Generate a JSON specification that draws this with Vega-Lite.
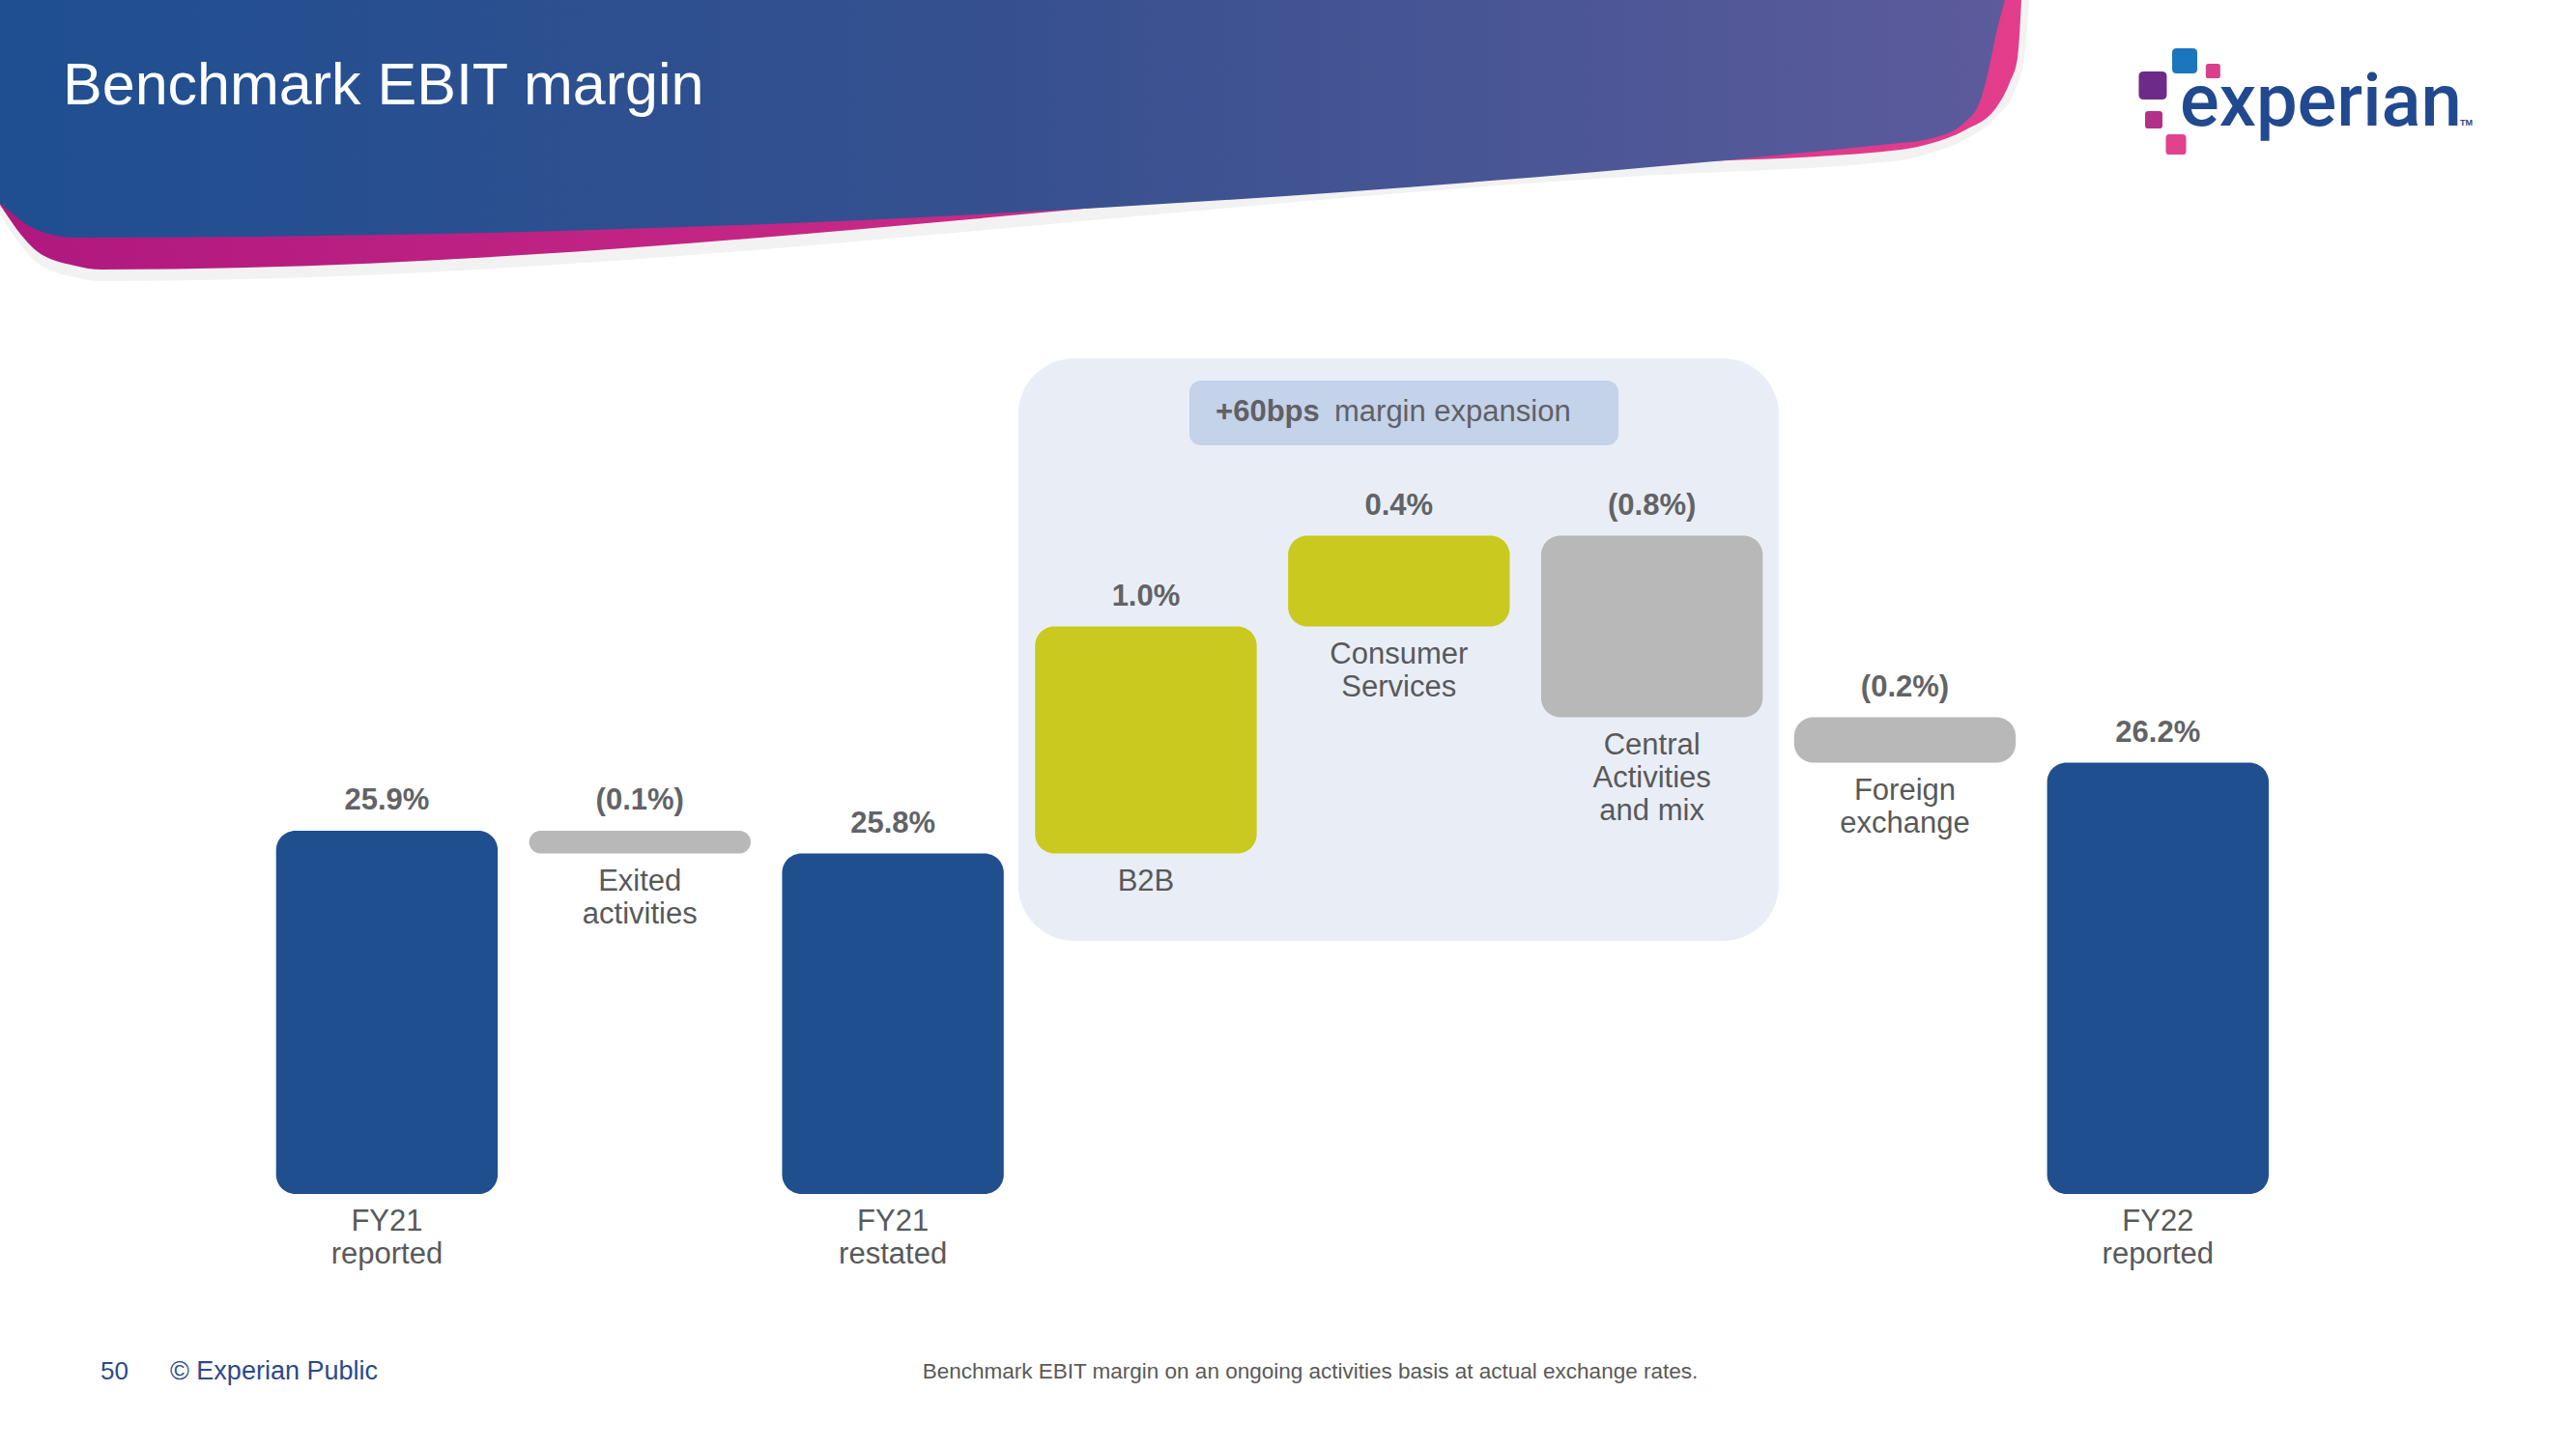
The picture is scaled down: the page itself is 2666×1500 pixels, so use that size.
{
  "$schema": "https://vega.github.io/schema/vega-lite/v6.json",
  "width": 2666,
  "height": 1500,
  "padding": 0,
  "autosize": {"type": "none"},
  "background": "white",
  "config": {"view": {"stroke": null}, "font": "Liberation Sans"},
  "datasets": {
    "bars": [
      {"cat": "FY21 reported", "label": "FY21|reported", "value": "25.9%", "kind": "total", "lo": null, "hi": 25.9},
      {"cat": "Exited activities", "label": "Exited|activities", "value": "(0.1%)", "kind": "down", "lo": 25.8, "hi": 25.9},
      {"cat": "FY21 restated", "label": "FY21|restated", "value": "25.8%", "kind": "total", "lo": null, "hi": 25.8},
      {"cat": "B2B", "label": "B2B", "value": "1.0%", "kind": "up", "lo": 25.8, "hi": 26.8},
      {"cat": "Consumer Services", "label": "Consumer|Services", "value": "0.4%", "kind": "up", "lo": 26.8, "hi": 27.2},
      {"cat": "Central Activities and mix", "label": "Central|Activities|and mix", "value": "(0.8%)", "kind": "down", "lo": 26.4, "hi": 27.2},
      {"cat": "Foreign exchange", "label": "Foreign|exchange", "value": "(0.2%)", "kind": "down", "lo": 26.2, "hi": 26.4},
      {"cat": "FY22 reported", "label": "FY22|reported", "value": "26.2%", "kind": "total", "lo": null, "hi": 26.2}
    ],
    "banner": [
      {"part": "shadow", "x": 0, "y": 14.8},
      {"part": "shadow", "x": 1.43, "y": 18.13},
      {"part": "shadow", "x": 2.89, "y": 19.13},
      {"part": "shadow", "x": 3.94, "y": 19.4},
      {"part": "shadow", "x": 63.77, "y": 12.13},
      {"part": "shadow", "x": 73.78, "y": 11.07},
      {"part": "shadow", "x": 75.02, "y": 10.53},
      {"part": "shadow", "x": 76.26, "y": 9.67},
      {"part": "shadow", "x": 77.53, "y": 8.0},
      {"part": "shadow", "x": 78.2, "y": 6.33},
      {"part": "shadow", "x": 78.58, "y": 4.0},
      {"part": "shadow", "x": 78.77, "y": 0},
      {"part": "pink", "x": 0, "y": 14.13},
      {"part": "pink", "x": 1.43, "y": 17.33},
      {"part": "pink", "x": 2.89, "y": 18.33},
      {"part": "pink", "x": 3.94, "y": 18.6},
      {"part": "pink", "x": 63.77, "y": 11.33},
      {"part": "pink", "x": 73.78, "y": 10.33},
      {"part": "pink", "x": 75.02, "y": 9.87},
      {"part": "pink", "x": 76.26, "y": 9.0},
      {"part": "pink", "x": 77.53, "y": 7.33},
      {"part": "pink", "x": 78.02, "y": 5.67},
      {"part": "pink", "x": 78.32, "y": 4.0},
      {"part": "pink", "x": 78.47, "y": 0},
      {"part": "blue", "x": 0, "y": 14.0},
      {"part": "blue", "x": 1.43, "y": 15.87},
      {"part": "blue", "x": 2.89, "y": 16.4},
      {"part": "blue", "x": 73.78, "y": 9.87},
      {"part": "blue", "x": 75.02, "y": 9.53},
      {"part": "blue", "x": 76.26, "y": 8.47},
      {"part": "blue", "x": 76.89, "y": 6.87},
      {"part": "blue", "x": 77.19, "y": 4.87},
      {"part": "blue", "x": 77.49, "y": 2.33},
      {"part": "blue", "x": 77.83, "y": 0}
    ],
    "logo": [
      {"piece": "blue", "x": 84.81, "y": 4.2},
      {"piece": "pinkSmall", "x": 85.91, "y": 4.9},
      {"piece": "purple", "x": 83.57, "y": 5.9},
      {"piece": "magenta", "x": 83.61, "y": 8.27},
      {"piece": "pink", "x": 84.47, "y": 9.97}
    ],
    "notes": [
      {"id": "title", "text": "Benchmark EBIT margin"},
      {"id": "pill_bold", "text": "+60bps"},
      {"id": "pill_reg", "text": "margin expansion"},
      {"id": "logo", "text": "experian"},
      {"id": "tm", "text": "TM"},
      {"id": "page", "text": "50"},
      {"id": "copy", "text": "© Experian Public"},
      {"id": "note", "text": "Benchmark EBIT margin on an ongoing activities basis at actual exchange rates."}
    ]
  },
  "layer": [
    {
      "layer": [
        {
          "data": {"name": "banner"},
          "transform": [{"filter": "datum.part === 'shadow'"}],
          "mark": {"type": "area", "interpolate": "monotone", "color": "#000000", "opacity": 0.05},
          "encoding": {
            "x": {"field": "x", "type": "quantitative", "scale": {"domain": [0, 100], "nice": false, "zero": false}, "axis": null},
            "y": {"field": "y", "type": "quantitative", "scale": {"domain": [0, 100], "nice": false, "zero": false, "reverse": true}, "axis": null},
            "y2": {"datum": 0}
          }
        },
        {
          "data": {"name": "banner"},
          "transform": [{"filter": "datum.part === 'pink'"}],
          "mark": {"type": "area", "interpolate": "monotone", "color": {"gradient": "linear", "x1": 0, "y1": 0, "x2": 1, "y2": 0, "stops": [{"offset": 0, "color": "#b0187f"}, {"offset": 1, "color": "#e43d8c"}]}},
          "encoding": {
            "x": {"field": "x", "type": "quantitative", "axis": null},
            "y": {"field": "y", "type": "quantitative", "axis": null},
            "y2": {"datum": 0}
          }
        },
        {
          "data": {"name": "banner"},
          "transform": [{"filter": "datum.part === 'blue'"}],
          "mark": {"type": "area", "interpolate": "monotone", "color": {"gradient": "linear", "x1": 0, "y1": 0, "x2": 1, "y2": 0, "stops": [{"offset": 0, "color": "#1f4f91"}, {"offset": 0.5, "color": "#36508f"}, {"offset": 1, "color": "#5c5b9c"}]}},
          "encoding": {
            "x": {"field": "x", "type": "quantitative", "axis": null},
            "y": {"field": "y", "type": "quantitative", "axis": null},
            "y2": {"datum": 0}
          }
        },
        {
          "data": {"values": [{"shape": "panel"}]},
          "mark": {"type": "rect", "color": "#e9eef6", "cornerRadius": 58},
          "encoding": {
            "x": {"datum": 39.53, "type": "quantitative", "axis": null},
            "x2": {"datum": 69.05},
            "y": {"datum": 24.73, "type": "quantitative", "axis": null},
            "y2": {"datum": 64.93}
          }
        },
        {
          "data": {"values": [{"shape": "pill"}]},
          "mark": {"type": "rect", "color": "#c4d2ea", "cornerRadius": 12},
          "encoding": {
            "x": {"datum": 46.17, "type": "quantitative", "axis": null},
            "x2": {"datum": 62.83},
            "y": {"datum": 26.27, "type": "quantitative", "axis": null},
            "y2": {"datum": 30.73}
          }
        },
        {
          "data": {"name": "notes"},
          "transform": [{"filter": "datum.id === 'title'"}],
          "mark": {"type": "text", "align": "left", "baseline": "alphabetic", "fontSize": 61, "color": "#ffffff"},
          "encoding": {
            "x": {"datum": 2.44, "type": "quantitative", "axis": null},
            "y": {"datum": 7.2, "type": "quantitative", "axis": null},
            "text": {"field": "text"}
          }
        },
        {
          "data": {"name": "notes"},
          "transform": [{"filter": "datum.id === 'pill_bold'"}],
          "mark": {"type": "text", "align": "left", "baseline": "middle", "fontSize": 31, "fontWeight": "bold", "color": "#5f6165"},
          "encoding": {
            "x": {"datum": 47.19, "type": "quantitative", "axis": null},
            "y": {"datum": 28.47, "type": "quantitative", "axis": null},
            "text": {"field": "text"}
          }
        },
        {
          "data": {"name": "notes"},
          "transform": [{"filter": "datum.id === 'pill_reg'"}],
          "mark": {"type": "text", "align": "left", "baseline": "middle", "fontSize": 31, "color": "#5f6165"},
          "encoding": {
            "x": {"datum": 51.8, "type": "quantitative", "axis": null},
            "y": {"datum": 28.47, "type": "quantitative", "axis": null},
            "text": {"field": "text"}
          }
        },
        {
          "data": {"name": "logo"},
          "mark": {"type": "point", "filled": true, "opacity": 1, "shape": "M-0.65,-1L0.65,-1Q1,-1,1,-0.65L1,0.65Q1,1,0.65,1L-0.65,1Q-1,1,-1,0.65L-1,-0.65Q-1,-1,-0.65,-1Z"},
          "encoding": {
            "x": {"field": "x", "type": "quantitative", "axis": null},
            "y": {"field": "y", "type": "quantitative", "axis": null},
            "color": {"field": "piece", "type": "nominal", "legend": null, "scale": {"domain": ["blue", "pinkSmall", "purple", "magenta", "pink"], "range": ["#1a76bd", "#d9418b", "#6e2a88", "#b23188", "#e0428e"]}},
            "size": {"field": "piece", "type": "nominal", "legend": null, "scale": {"type": "ordinal", "domain": ["blue", "pinkSmall", "purple", "magenta", "pink"], "range": [676, 225, 841, 324, 441]}}
          }
        },
        {
          "data": {"name": "notes"},
          "transform": [{"filter": "datum.id === 'logo'"}],
          "mark": {"type": "text", "align": "left", "baseline": "alphabetic", "fontSize": 76, "font": "Roboto", "fontWeight": 500, "color": "#21498f"},
          "encoding": {
            "x": {"datum": 84.62, "type": "quantitative", "axis": null},
            "y": {"datum": 8.67, "type": "quantitative", "axis": null},
            "text": {"field": "text"}
          }
        },
        {
          "data": {"name": "notes"},
          "transform": [{"filter": "datum.id === 'tm'"}],
          "mark": {"type": "text", "align": "left", "baseline": "alphabetic", "fontSize": 9, "fontWeight": "bold", "color": "#21498f"},
          "encoding": {
            "x": {"datum": 95.5, "type": "quantitative", "axis": null},
            "y": {"datum": 8.67, "type": "quantitative", "axis": null},
            "text": {"field": "text"}
          }
        },
        {
          "data": {"name": "notes"},
          "transform": [{"filter": "datum.id === 'page'"}],
          "mark": {"type": "text", "align": "left", "baseline": "middle", "fontSize": 26, "color": "#2b4a8b"},
          "encoding": {
            "x": {"datum": 3.9, "type": "quantitative", "axis": null},
            "y": {"datum": 94.67, "type": "quantitative", "axis": null},
            "text": {"field": "text"}
          }
        },
        {
          "data": {"name": "notes"},
          "transform": [{"filter": "datum.id === 'copy'"}],
          "mark": {"type": "text", "align": "left", "baseline": "middle", "fontSize": 27, "color": "#2b4a8b"},
          "encoding": {
            "x": {"datum": 6.6, "type": "quantitative", "axis": null},
            "y": {"datum": 94.67, "type": "quantitative", "axis": null},
            "text": {"field": "text"}
          }
        },
        {
          "data": {"name": "notes"},
          "transform": [{"filter": "datum.id === 'note'"}],
          "mark": {"type": "text", "align": "center", "baseline": "middle", "fontSize": 22.5, "color": "#595959"},
          "encoding": {
            "x": {"datum": 50.86, "type": "quantitative", "axis": null},
            "y": {"datum": 94.67, "type": "quantitative", "axis": null},
            "text": {"field": "text"}
          }
        }
      ]
    },
    {
      "data": {"name": "bars"},
      "encoding": {
        "x": {
          "field": "cat",
          "type": "nominal",
          "sort": null,
          "axis": null,
          "scale": {
            "type": "band",
            "domain": ["FY21 reported", "Exited activities", "FY21 restated", "B2B", "Consumer Services", "Central Activities and mix", "Foreign exchange", "FY22 reported"],
            "range": [285.75, 2348],
            "paddingInner": 0.124,
            "paddingOuter": 0
          }
        }
      },
      "layer": [
        {
          "transform": [{"filter": "datum.kind === 'total'"}],
          "mark": {"type": "bar", "cornerRadius": 20},
          "encoding": {
            "y": {"field": "hi", "type": "quantitative", "axis": null, "scale": {"domain": [23.177, 29.56], "nice": false, "zero": false}},
            "y2": {"datum": 24.3},
            "color": {"field": "kind", "type": "nominal", "legend": null, "scale": {"domain": ["total", "up", "down"], "range": ["#1f4f8f", "#c9c920", "#b8b8b8"]}}
          }
        },
        {
          "transform": [{"filter": "datum.kind !== 'total'"}],
          "mark": {"type": "bar", "cornerRadius": 20},
          "encoding": {
            "y": {"field": "hi", "type": "quantitative", "axis": null},
            "y2": {"field": "lo"},
            "color": {"field": "kind", "type": "nominal", "legend": null}
          }
        },
        {
          "mark": {"type": "text", "baseline": "middle", "align": "center", "dy": -31, "fontSize": 31, "fontWeight": "bold", "color": "#626367"},
          "encoding": {
            "y": {"field": "hi", "type": "quantitative", "axis": null},
            "text": {"field": "value"}
          }
        },
        {
          "transform": [{"filter": "datum.kind !== 'total'"}],
          "mark": {"type": "text", "baseline": "top", "align": "center", "dy": 14, "fontSize": 31, "lineHeight": 34, "lineBreak": "|", "color": "#58595b"},
          "encoding": {
            "y": {"field": "lo", "type": "quantitative", "axis": null},
            "text": {"field": "label"}
          }
        },
        {
          "transform": [{"filter": "datum.kind === 'total'"}],
          "mark": {"type": "text", "baseline": "top", "align": "center", "dy": 14, "fontSize": 31, "lineHeight": 34, "lineBreak": "|", "color": "#58595b"},
          "encoding": {
            "y": {"datum": 24.3, "type": "quantitative", "axis": null},
            "text": {"field": "label"}
          }
        }
      ]
    }
  ],
  "resolve": {"scale": {"x": "independent", "y": "independent", "color": "independent", "size": "independent"}}
}
